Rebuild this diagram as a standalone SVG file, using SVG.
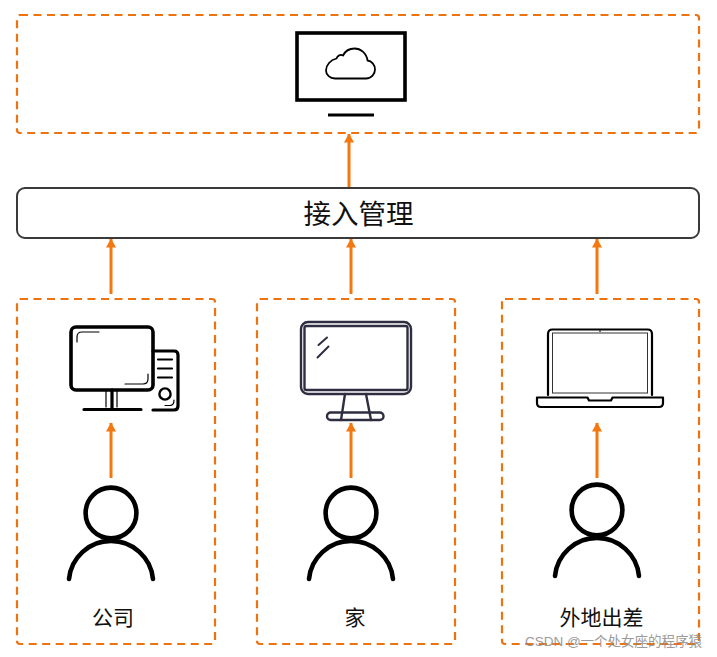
<svg xmlns="http://www.w3.org/2000/svg" width="717" height="657" viewBox="0 0 717 657">
  <style>
    text { font-family: "Liberation Sans", "Noto Sans CJK SC", sans-serif; fill: #111; text-anchor: middle; }
    .zone { fill: none; stroke: #ed7311; stroke-width: 2.2; stroke-dasharray: 8 5.5; }
    .flow { fill: none; stroke: #f5770f; stroke-width: 3; marker-end: url(#head); }
    .ink { fill: none; stroke: #000; stroke-linecap: round; stroke-linejoin: round; }
    .navy { fill: none; stroke: #2f2e41; stroke-linecap: round; stroke-linejoin: round; }
    .label { font-size: 21px; }
  </style>
  <defs>
    <marker id="head" markerUnits="userSpaceOnUse" markerWidth="10" markerHeight="11" refX="8.5" refY="5" orient="auto">
      <path d="M0 0L9 5L0 10z" fill="#f5770f"/>
    </marker>
    <g id="person">
      <circle cx="0" cy="0" r="25.4" class="ink" stroke-width="4.6"/>
      <path d="M-42 66A42.2 42.2 0 0 1 42 66" class="ink" stroke-width="4.6"/>
    </g>
  </defs>
  <rect width="717" height="657" fill="#fff"/>

  <g id="connectors">
    <path class="flow" d="M349 187V134"/>
    <path class="flow" d="M111 294V239"/>
    <path class="flow" d="M351 294V239"/>
    <path class="flow" d="M597 294V239"/>
    <path class="flow" d="M111 478V423"/>
    <path class="flow" d="M351 478V423"/>
    <path class="flow" d="M597 478V423"/>
  </g>

  <g id="cloud-zone">
    <rect class="zone" x="17" y="15" width="682" height="118" rx="3"/>
    <rect x="297" y="33" width="108" height="67" fill="none" stroke="#000" stroke-width="3.600"/>
    <path d="M328 115H374" stroke="#000" stroke-width="3.200"/>
    <path class="ink" stroke-width="1.800" d="M335 78.500H366C371.500 78.500 375 74 375 69.500C375 64.500 371.500 61 367.500 60.500C366.500 53 360.500 48.500 354.500 48.500C349 48.500 345 51.500 343 55.500C340.500 54 337.500 55.500 336.500 58.500C330.500 60 326 65 326 70.500C326 75 330 78.500 335 78.500z"/>
  </g>

  <g id="access-management">
    <rect x="17" y="188" width="682" height="50" rx="8" fill="#fff" stroke="#3a3a3a" stroke-width="2"/>
    <text x="358.500" y="224" font-size="27.500">接入管理</text>
  </g>

  <g id="office">
    <rect class="zone" x="17" y="299" width="198" height="345" rx="3"/>
    <rect class="ink" x="71" y="327" width="82" height="63" rx="5" stroke-width="3.600"/>
    <path class="ink" stroke-width="1.200" d="M99 332H82Q77 332 77 337V342M125 384H143Q148 384 148 379V374M106 391V407M117 391V407"/>
    <path class="ink" stroke-width="3.200" d="M112 390V409M84 409.500H141M153 351H174Q178 351 178 355V406Q178 410 174 410H153"/>
    <path class="ink" stroke-width="2.200" d="M158 359.500H172M158 368.500H172M158 377.500H172"/>
    <circle class="ink" cx="165" cy="394" r="5.600" stroke-width="2.400"/>
    <path class="ink" stroke-width="1.200" d="M165 405.500H170Q174 405.500 174 400"/>
    <use href="#person" x="111" y="513"/>
    <text class="label" x="113" y="625">公司</text>
  </g>

  <g id="home">
    <rect class="zone" x="257" y="299" width="198" height="345" rx="3"/>
    <rect class="navy" x="301" y="322" width="110" height="72" rx="7" stroke-width="2.400"/>
    <rect class="navy" x="304.500" y="326" width="103" height="64" rx="2" stroke-width="2.400"/>
    <path class="navy" stroke-width="2" d="M318.500 345L327 337.500M317.500 357.500L328.500 346.500"/>
    <path class="navy" stroke-width="2.400" d="M345 394L341 420M366 394L371 420"/>
    <rect class="navy" x="327" y="412.500" width="56.500" height="7.500" rx="3.700" stroke-width="2.400"/>
    <use href="#person" x="351" y="513"/>
    <text class="label" x="355" y="625">家</text>
  </g>

  <g id="travel">
    <rect class="zone" x="502" y="299" width="197" height="345" rx="3"/>
    <path class="ink" stroke-width="2.200" d="M548 395V334Q548 329.500 552.500 329.500H647.500Q652 329.500 652 334V395"/>
    <rect x="552.500" y="333" width="95" height="60" fill="none" stroke="#333" stroke-width="1"/>
    <circle cx="600" cy="331" r="0.900" fill="#333"/>
    <path class="ink" stroke-width="2.200" d="M537 397.500H587.500L589 400.500H611L612.500 397.500H663V403Q663 407 659 407H541Q537 407 537 403z"/>
    <use href="#person" x="597" y="510"/>
    <text class="label" x="601.500" y="625">外地出差</text>
  </g>

  <text x="613.500" y="646" font-size="13.500" style="fill:#8a8a8a" opacity="0.85">CSDN @一个处女座的程序猿</text>
</svg>
